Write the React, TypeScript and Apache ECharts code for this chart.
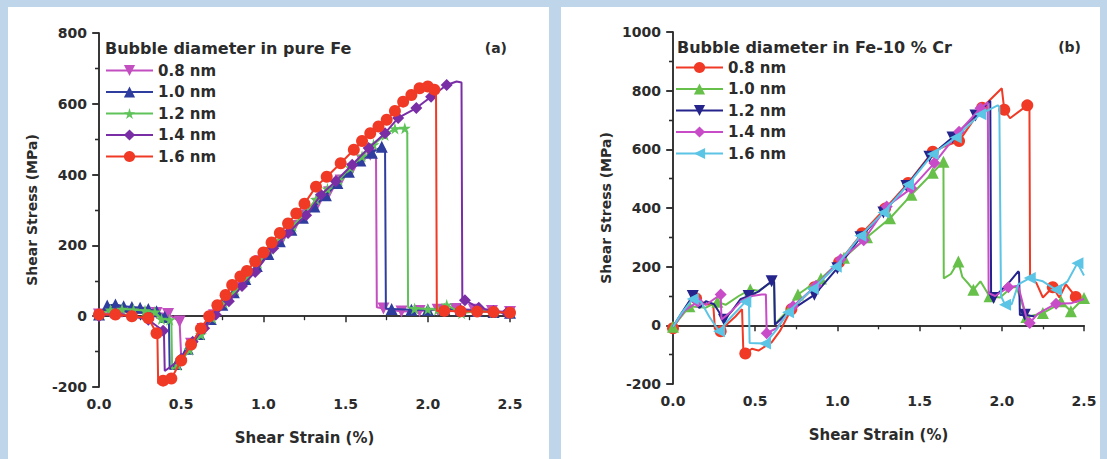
import React, { useEffect, useRef } from "react";
import * as echarts from "echarts";

// ---------- data: [shear strain (%), shear stress (MPa), marker flag (0 = no marker)] ----------
// (a) Bubble diameter in pure Fe
const feLabels = ["0.8 nm", "1.0 nm", "1.2 nm", "1.4 nm", "1.6 nm"];
const fe08: number[][] = [
  [0, 5], [0.07, 10], [0.14, 12], [0.21, 10], [0.28, 10], [0.35, 9], [0.42, 6], [0.49, -15],
  [0.5, -115, 0], [0.56, -78], [0.63, -36], [0.7, 3], [0.77, 42], [0.84, 80], [0.91, 118], [0.98, 155],
  [1.05, 190], [1.12, 222], [1.19, 255], [1.26, 285], [1.33, 318], [1.4, 350], [1.47, 383], [1.54, 415],
  [1.6, 440], [1.65, 456], [1.685, 450, 0], [1.69, 25, 0], [1.73, 22], [1.84, 13], [1.95, 15], [2.06, 18],
  [2.17, 20], [2.28, 18], [2.39, 15], [2.5, 12],
];
const fe10: number[][] = [
  [0, 5], [0.05, 30], [0.1, 33], [0.15, 28], [0.2, 26], [0.25, 24], [0.3, 20], [0.35, 14], [0.4, -2],
  [0.425, -8, 0], [0.43, -150, 0], [0.47, -135], [0.54, -92], [0.61, -50], [0.68, -8], [0.75, 32],
  [0.82, 68], [0.89, 105], [0.96, 142], [1.03, 176], [1.1, 212], [1.17, 244], [1.24, 278], [1.31, 310],
  [1.38, 342], [1.45, 376], [1.52, 408], [1.59, 440], [1.66, 462], [1.72, 479], [1.74, 470, 0],
  [1.745, 22, 0], [1.78, 20], [1.9, 18], [2.0, 18], [2.1, 20], [2.2, 18], [2.3, 15], [2.4, 12], [2.5, 10],
];
const fe12: number[][] = [
  [0, 5], [0.07, 18], [0.14, 20], [0.21, 18], [0.28, 16], [0.34, 12], [0.38, -8], [0.43, -10],
  [0.44, -12, 0], [0.445, -150, 0], [0.48, -138], [0.55, -95], [0.62, -52], [0.69, -5], [0.76, 38],
  [0.83, 75], [0.9, 112], [0.97, 150], [1.04, 190], [1.11, 228], [1.18, 255], [1.25, 290], [1.32, 330],
  [1.39, 360], [1.46, 385], [1.53, 420], [1.6, 452], [1.67, 485], [1.74, 512], [1.8, 530], [1.86, 531],
  [1.875, 520, 0], [1.88, 25, 0], [1.92, 22], [2.0, 20], [2.06, 18], [2.115, 32], [2.206, 8], [2.3, 15],
  [2.4, 12], [2.5, 10],
];
const fe14: number[][] = [
  [0, 0], [0.1, 8], [0.2, 0], [0.3, -10], [0.39, -41], [0.395, -45, 0], [0.4, -155, 0], [0.5, -120],
  [0.57, -72], [0.64, -34], [0.71, 4], [0.79, 42], [0.87, 85], [0.95, 125], [1.06, 192], [1.15, 235],
  [1.26, 285], [1.35, 343], [1.44, 381], [1.54, 428], [1.64, 475], [1.74, 517], [1.82, 560], [1.93, 588],
  [2.02, 620], [2.115, 653], [2.175, 663, 0], [2.205, 660, 0], [2.21, 45, 0], [2.226, 45], [2.31, 24],
  [2.4, 15], [2.48, 10],
];
const fe16: number[][] = [
  [0, 5], [0.1, 5], [0.2, 0], [0.3, -5], [0.35, -48], [0.355, -50, 0], [0.36, -190, 0], [0.39, -182],
  [0.44, -176], [0.5, -125], [0.56, -80], [0.62, -35], [0.67, 0], [0.72, 31], [0.77, 60], [0.81, 88],
  [0.86, 112], [0.9, 128], [0.95, 155], [1.0, 180], [1.05, 208], [1.1, 235], [1.15, 262], [1.2, 290],
  [1.25, 318], [1.32, 366], [1.385, 394], [1.47, 432], [1.55, 470], [1.6, 495], [1.65, 517], [1.7, 536],
  [1.75, 555], [1.8, 580], [1.85, 606], [1.9, 625], [1.95, 644], [2.0, 649], [2.04, 640],
  [2.05, 635, 0], [2.055, 15, 0], [2.1, 15], [2.2, 14], [2.3, 13], [2.4, 12], [2.5, 10],
];

// (b) Bubble diameter in Fe-10 % Cr
const crLabels = ["0.8 nm", "1.0 nm", "1.2 nm", "1.4 nm", "1.6 nm"];
const cr08: number[][] = [
  [0, -10], [0.05, 35, 0], [0.1, 80, 0], [0.14, 92], [0.2, 72, 0], [0.245, 68, 0], [0.255, -10, 0],
  [0.29, -20], [0.34, 10, 0], [0.38, 30, 0], [0.42, 55, 0], [0.428, -92, 0], [0.44, -96],
  [0.48, -80, 0], [0.52, -86, 0], [0.56, -72, 0], [0.6, -58, 0], [0.65, -20, 0], [0.72, 55], [0.86, 130],
  [1.01, 215], [1.15, 314], [1.29, 398], [1.43, 485], [1.58, 592], [1.66, 612, 0], [1.74, 628],
  [1.88, 742], [2.0, 808, 0], [2.015, 735], [2.05, 706, 0], [2.155, 750], [2.168, 750, 0],
  [2.172, 160, 0], [2.21, 145, 0], [2.25, 95, 0], [2.31, 130], [2.35, 95, 0], [2.39, 140, 0],
  [2.45, 97], [2.5, 90, 0],
];
const cr10: number[][] = [
  [0, -5], [0.1, 65], [0.2, 60, 0], [0.27, 80], [0.32, 70, 0], [0.4, 100, 0], [0.47, 122],
  [0.52, 118, 0], [0.58, 140, 0], [0.615, 150, 0], [0.62, 5, 0], [0.68, 40, 0], [0.76, 105], [0.9, 160],
  [1.04, 230], [1.18, 300], [1.32, 365], [1.45, 445], [1.58, 520], [1.645, 558], [1.647, 160, 0],
  [1.69, 175, 0], [1.736, 218], [1.76, 165, 0], [1.8, 140, 0], [1.827, 121], [1.87, 150, 0],
  [1.925, 99], [1.99, 95, 0], [2.06, 130, 0], [2.09, 130, 0], [2.12, 80, 0], [2.15, 28], [2.25, 42],
  [2.31, 60, 0], [2.36, 82], [2.42, 48], [2.5, 93],
];
const cr12: number[][] = [
  [0, -5, 0], [0.05, 40, 0], [0.12, 100], [0.16, 59, 0], [0.2, 82, 0], [0.25, 72, 0], [0.31, 19],
  [0.36, 50, 0], [0.41, 89, 0], [0.46, 100], [0.52, 115, 0], [0.6, 150], [0.615, 148, 0], [0.62, 2, 0],
  [0.7, 45, 0], [0.86, 104], [1.0, 195], [1.14, 300], [1.28, 385], [1.42, 475], [1.56, 575], [1.7, 640],
  [1.84, 715], [1.93, 766, 0], [1.935, 95, 0], [1.95, 93], [2.05, 150, 0], [2.1, 184, 0], [2.105, 180, 0],
  [2.11, 35, 0], [2.14, 36], [2.2, 30, 0],
];
const cr14: number[][] = [
  [0, -5, 0], [0.07, 50, 0], [0.15, 80], [0.2, 70, 0], [0.29, 105], [0.292, 105, 0], [0.295, 20, 0],
  [0.35, 45, 0], [0.42, 85, 0], [0.48, 100, 0], [0.54, 105, 0], [0.565, 105, 0], [0.57, -27],
  [0.63, -10, 0], [0.73, 65], [0.87, 135], [1.02, 225], [1.16, 290], [1.3, 405], [1.45, 467],
  [1.59, 553], [1.74, 660], [1.87, 740], [1.915, 760, 0], [1.92, 110, 0], [1.96, 100, 0], [2.04, 130],
  [2.1, 135, 0], [2.15, 25, 0], [2.17, 8], [2.22, 40, 0], [2.33, 74], [2.42, 75, 0], [2.5, 90, 0],
];
const cr16: number[][] = [
  [0, -5, 0], [0.05, 40, 0], [0.12, 90], [0.17, 80, 0], [0.22, 30, 0], [0.28, -20], [0.34, 20, 0],
  [0.44, 80], [0.462, 80, 0], [0.466, -60, 0], [0.56, -62], [0.63, -15, 0], [0.7, 45], [0.85, 125],
  [0.99, 200], [1.14, 305], [1.28, 385], [1.43, 480], [1.58, 584], [1.72, 640], [1.87, 720],
  [1.975, 750, 0], [1.985, 745, 0], [1.995, 100, 0], [2.02, 70], [2.06, 72, 0], [2.1, 140, 0],
  [2.17, 161], [2.25, 150, 0], [2.33, 121], [2.4, 150, 0], [2.46, 212], [2.5, 170, 0],
];

const xTicks = [0, 0.5, 1.0, 1.5, 2.0, 2.5];
const feYRange = [-200, 800];
const crYRange = [-200, 1000];

// ---------- styling ----------
const FONT = "DejaVu Sans";
const INK = "#2b2b2b";
const DOWN = "path://M0,0L10,0L5,9Z";
const LEFT = "path://M9,0L9,10L0,5Z";
const STAR = "path://M50,0L61,35L98,35L68,57L79,91L50,70L21,91L32,57L2,35L39,35Z";

const feSets = [fe08, fe10, fe12, fe14, fe16];
const feColors = ["#c24ec0", "#2e3d9e", "#5fc35a", "#7a2ea6", "#f03a26"];
const feSymbols = [DOWN, "triangle", STAR, "diamond", "circle"];
const crSets = [cr08, cr10, cr12, cr14, cr16];
const crColors = ["#f03a26", "#67c04a", "#24248c", "#c84cc8", "#5cc4e4"];
const crSymbols = ["circle", "triangle", DOWN, "diamond", LEFT];

function toData(pts: number[][]) {
  return pts.map((p) =>
    p.length > 2 && p[2] === 0 ? { value: [p[0], p[1]], symbol: "none" } : { value: [p[0], p[1]] }
  );
}

function buildSeries(prefix: string, labels: string[], sets: number[][][], colors: string[], symbols: string[], idx: number) {
  return labels.map((lab, i) => ({
    type: "line",
    name: prefix + lab,
    xAxisIndex: idx * 2,
    yAxisIndex: idx * 2,
    data: toData(sets[i]),
    symbol: symbols[i],
    symbolSize: 12,
    showAllSymbol: true,
    lineStyle: { color: colors[i], width: 2 },
    itemStyle: { color: colors[i] },
    emphasis: { disabled: true },
    z: 3 + i,
  }));
}

const labelFont = { fontFamily: FONT, fontWeight: "bold" as const, color: INK };

function axesFor(grid: number, yr: number[]) {
  const line = { lineStyle: { color: INK, width: 1.5 } };
  const xs = [
    {
      gridIndex: grid, type: "value", min: xTicks[0], max: xTicks[xTicks.length - 1], interval: 0.5,
      position: "bottom", name: "Shear Strain (%)", nameLocation: "middle", nameGap: 43,
      nameTextStyle: { ...labelFont, fontSize: 15 },
      axisLine: { show: true, ...line },
      axisTick: { show: true, inside: false, length: 6, ...line },
      minorTick: { show: true, splitNumber: 2, length: 4, lineStyle: { color: INK, width: 1.3 } },
      axisLabel: { ...labelFont, fontSize: 14, margin: 10, formatter: (v: number) => v.toFixed(1) },
      splitLine: { show: false },
    },
    {
      gridIndex: grid, type: "value", min: xTicks[0], max: xTicks[xTicks.length - 1], interval: 0.5,
      position: "top", axisLine: { show: true, ...line }, axisTick: { show: false },
      axisLabel: { show: false }, splitLine: { show: false },
    },
  ];
  const ys = [
    {
      gridIndex: grid, type: "value", min: yr[0], max: yr[1], interval: 200, position: "left",
      name: "Shear Stress (MPa)", nameLocation: "middle", nameGap: 60,
      nameTextStyle: { ...labelFont, fontSize: 14 },
      axisLine: { show: true, ...line },
      axisTick: { show: true, inside: false, length: 7, ...line },
      minorTick: { show: true, splitNumber: 2, length: 4, lineStyle: { color: INK, width: 1.3 } },
      axisLabel: { ...labelFont, fontSize: 14, margin: 12, formatter: (v: number) => String(v) },
      splitLine: { show: false },
    },
    {
      gridIndex: grid, type: "value", min: yr[0], max: yr[1], interval: 200, position: "right",
      axisLine: { show: true, ...line },
      axisTick: { show: true, inside: true, length: 6, ...line },
      minorTick: { show: true, splitNumber: 2, length: 4, lineStyle: { color: INK, width: 1.3 } },
      axisLabel: { show: false }, splitLine: { show: false },
    },
  ];
  return { xs, ys };
}

function legendFor(prefix: string, labels: string[], left: number, top: number) {
  return {
    data: labels.map((l) => prefix + l),
    orient: "vertical",
    left, top,
    padding: 0,
    itemWidth: 47,
    itemHeight: 14,
    itemGap: 6.5,
    selectedMode: false,
    formatter: (n: string) => n.slice(prefix.length),
    textStyle: { ...labelFont, fontSize: 15 },
  };
}

export default function App() {
  const ref = useRef<HTMLDivElement>(null);
  useEffect(() => {
    if (!ref.current) return;
    const chart = echarts.init(ref.current, undefined, { renderer: "svg" });
    const a = axesFor(0, feYRange);
    const b = axesFor(1, crYRange);
    chart.setOption({
      animation: false,
      backgroundColor: "#bfd5ea",
      grid: [
        { left: 99, top: 33, width: 411, height: 354 },
        { left: 673, top: 32, width: 411, height: 352 },
      ],
      xAxis: [...a.xs, ...b.xs],
      yAxis: [...a.ys, ...b.ys],
      legend: [legendFor("a:", feLabels, 105, 63), legendFor("b:", crLabels, 675, 60)],
      graphic: [
        { type: "rect", z: -10, shape: { x: 8, y: 7, width: 541, height: 460 }, style: { fill: "#ffffff" } },
        { type: "rect", z: -10, shape: { x: 561, y: 7, width: 539, height: 460 }, style: { fill: "#ffffff" } },
        { type: "text", x: 105, y: 48, style: { text: "Bubble diameter in pure Fe", fill: INK, fontSize: 16, verticalAlign: "middle", fontFamily: FONT, fontWeight: "bold" } },
        { type: "text", x: 677, y: 47, style: { text: "Bubble diameter in Fe-10 % Cr", fill: INK, fontSize: 16, verticalAlign: "middle", fontFamily: FONT, fontWeight: "bold" } },
        { type: "text", x: 507, y: 48, style: { text: "(a)", fill: INK, fontSize: 14, align: "right", verticalAlign: "middle", fontFamily: FONT, fontWeight: "bold" } },
        { type: "text", x: 1081, y: 47, style: { text: "(b)", fill: INK, fontSize: 14, align: "right", verticalAlign: "middle", fontFamily: FONT, fontWeight: "bold" } },
      ],
      series: [
        ...buildSeries("a:", feLabels, feSets, feColors, feSymbols, 0),
        ...buildSeries("b:", crLabels, crSets, crColors, crSymbols, 1),
      ],
    });
    return () => chart.dispose();
  }, []);
  return <div ref={ref} style={{ position: "absolute", left: 0, top: 0, width: 1107, height: 459 }} />;
}
